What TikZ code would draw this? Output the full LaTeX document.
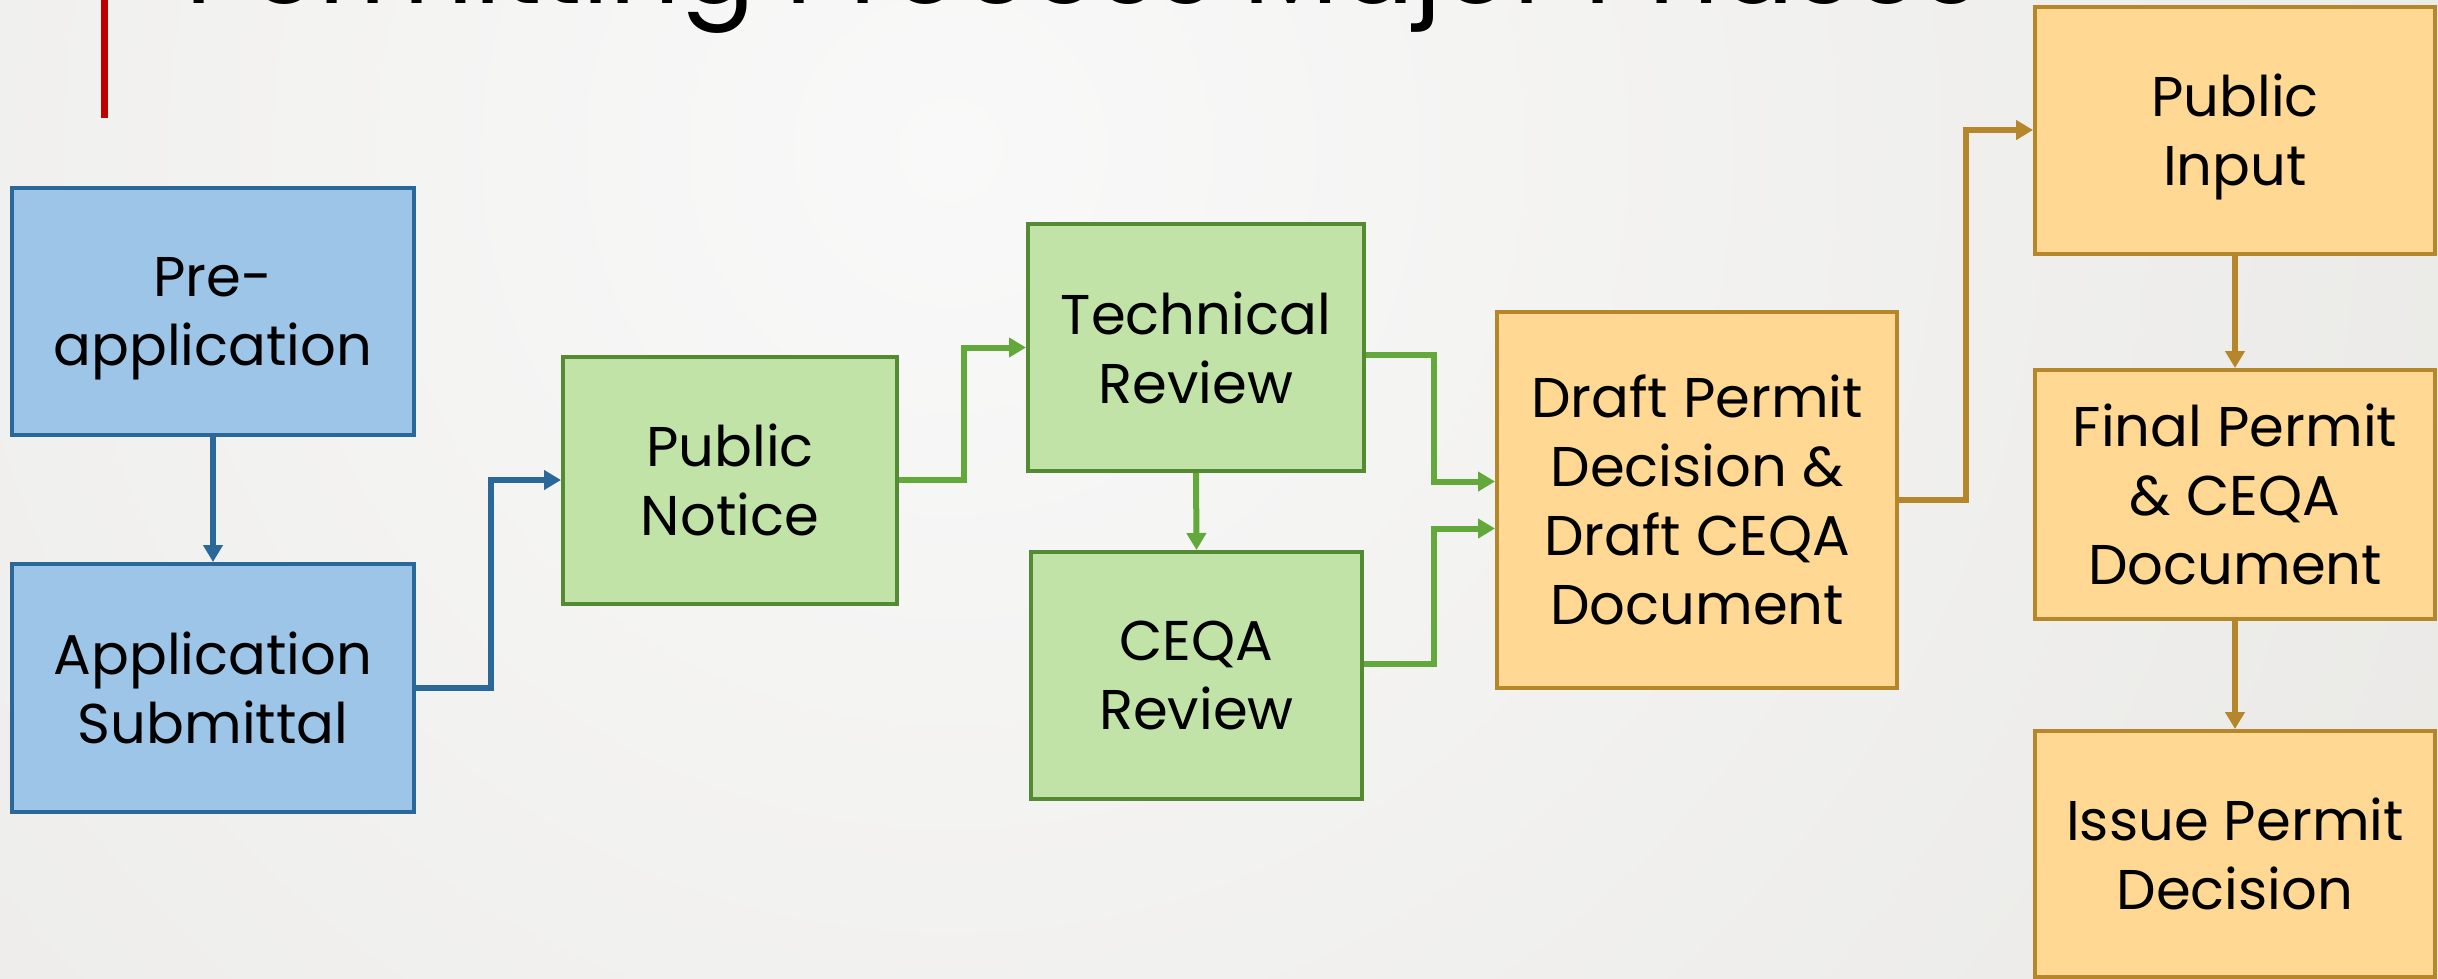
\documentclass[tikz,border=0pt]{standalone}
\usepackage{fontspec}
\setmainfont{Poppins}
\usetikzlibrary{arrows.meta}
\definecolor{bgbase}{HTML}{E3E2DE}
\definecolor{bghi}{HTML}{F9F9F9}
\definecolor{bluefill}{HTML}{9DC5E7}
\definecolor{blueline}{HTML}{2A6899}
\definecolor{greenfill}{HTML}{C1E3A7}
\definecolor{greenline}{HTML}{548A32}
\definecolor{greenarrow}{HTML}{63A83B}
\definecolor{orangefill}{HTML}{FFD993}
\definecolor{orangeline}{HTML}{B5862A}
\definecolor{titlered}{HTML}{C00000}
\tikzset{
  box/.style={rectangle, draw, line width=4pt, inner sep=0pt, align=center,
    font=\fontsize{56}{69}\selectfont, text=black, text depth=0pt},
  bluebox/.style={box, fill=bluefill, draw=blueline},
  greenbox/.style={box, fill=greenfill, draw=greenline},
  orangebox/.style={box, fill=orangefill, draw=orangeline},
  conn/.style={line width=6pt, -{Triangle[length=17pt,width=19pt]}},
  blueconn/.style={conn, draw=blueline, color=blueline},
  greenconn/.style={conn, draw=greenarrow, color=greenarrow},
  orangeconn/.style={conn, draw=orangeline, color=orangeline},
}
\begin{document}
\begin{tikzpicture}[x=1pt,y=-1pt]
\useasboundingbox (0,0) rectangle (2438,978);
\fill[bgbase] (0,0) rectangle (2438,978);
\begin{scope}
  \clip (0,0) rectangle (2438,978);
  \shade[inner color=bghi, outer color=bgbase] (950,150) circle (2400pt);
  % title, clipped at the top edge
  \node[anchor=base west, inner sep=0pt] (title) at (185,3)
    {\resizebox{1793pt}{!}{Permitting Process Major Phases}};
  \draw[titlered, line width=7pt] (104,-5) -- (104,118);
\end{scope}

\node[bluebox, minimum width=402pt, minimum height=247pt] (pre) at (213,311.5) {Pre-\\application};
\node[bluebox, minimum width=402pt, minimum height=248pt] (app) at (213,688) {Application\\Submittal};
\node[greenbox, minimum width=334pt, minimum height=247pt] (pn) at (730,480) {Public\\Notice};
\node[greenbox, minimum width=336pt, minimum height=247pt] (tech) at (1196,347.5) {Technical\\Review};
\node[greenbox, minimum width=331pt, minimum height=247pt] (ceqa) at (1196.5,675.5) {CEQA\\Review};
\node[orangebox, minimum width=400pt, minimum height=376pt] (draft) at (1697,499.5) {Draft Permit\\Decision \&\\Draft CEQA\\Document};
\node[orangebox, minimum width=400pt, minimum height=247pt] (pi) at (2235,130) {Public\\Input};
\node[orangebox, minimum width=400pt, minimum height=249pt] (final) at (2235,494.5) {Final Permit\\\& CEQA\\Document};
\node[orangebox, minimum width=400pt, minimum height=246pt] (issue) at (2235,854) {Issue Permit\\Decision};

\draw[blueconn] (pre.south) -- (app.north);
\draw[blueconn] (app.east) -- ++(75,0) |- (pn.west);
\draw[greenconn] (pn.east) -- ++(65,0) |- (tech.west);
\draw[greenconn] (tech.south) -- (ceqa.north);
\draw[greenconn] ([yshift=-7.5pt]tech.east) -- ++(68,0) |- ([yshift=18pt]draft.west);
\draw[greenconn] ([yshift=11.5pt]ceqa.east) -- ++(70,0) |- ([yshift=-29pt]draft.west);
\draw[orangeconn] (draft.east) -- ++(67,0) |- (pi.west);
\draw[orangeconn] (pi.south) -- (final.north);
\draw[orangeconn] (final.south) -- (issue.north);
\end{tikzpicture}
\end{document}
